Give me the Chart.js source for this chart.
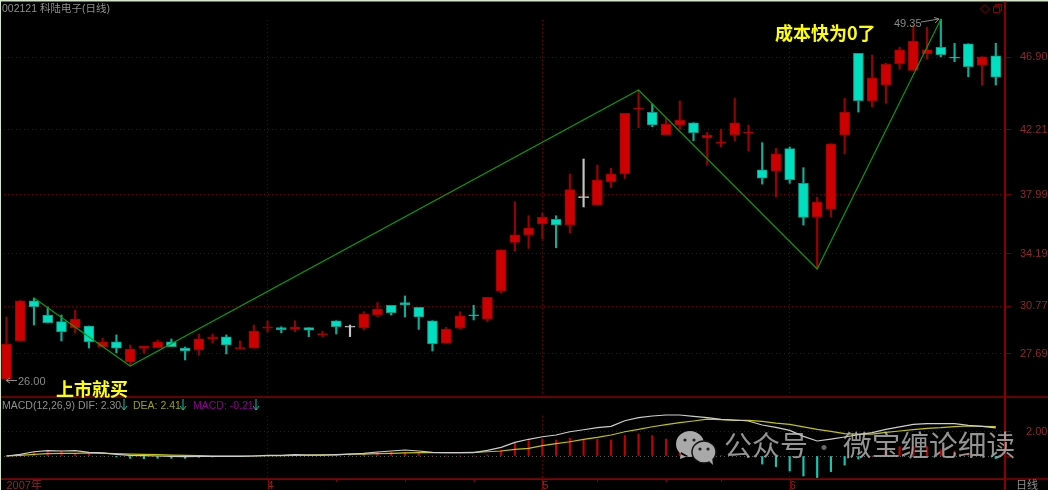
<!DOCTYPE html>
<html>
<head>
<meta charset="utf-8">
<title>002121</title>
<style>
html, body { margin: 0; padding: 0; background: #000; }
canvas { display: block; }
</style>
<script src="https://cdn.jsdelivr.net/npm/chart.js@4/dist/chart.umd.min.js"></script>
</head>
<body>
<canvas id="kline" width="1048" height="490"></canvas>
<script>
const opens = [26.07, 28.55, 31.12, 30.21, 29.78, 29.39, 29.50, 28.16, 28.48, 27.17,
    28.05, 28.09, 28.48, 28.07, 27.95, 28.68, 28.79, 28.03, 28.07, 29.35,
    29.39, 29.28, 29.39, 28.93, 29.84, 29.43, 29.39, 30.23, 30.84, 31.01,
    30.71, 29.84, 28.38, 29.35, 30.21, 29.95, 31.76, 34.91, 35.41, 36.10,
    36.40, 36.03, 37.80, 37.33, 38.83, 39.35, 43.55, 43.32, 41.88, 42.50,
    42.65, 41.66, 41.32, 41.88, 41.99, 39.61, 39.53, 40.97, 38.73, 36.55,
    37.05, 41.88, 47.14, 44.07, 45.09, 46.47, 46.04, 47.12, 47.53, 46.86,
    47.76, 46.38, 46.97];
const closes = [28.33, 31.13, 30.75, 29.71, 29.13, 29.95, 28.48, 28.48, 28.07, 28.01,
    28.20, 28.48, 28.16, 27.88, 28.66, 28.79, 28.27, 28.09, 29.17, 29.45,
    29.26, 29.43, 29.22, 29.00, 29.45, 29.43, 30.27, 30.60, 30.36, 30.86,
    30.08, 28.35, 29.30, 30.15, 30.15, 31.35, 34.43, 35.39, 35.84, 36.53,
    36.03, 38.32, 37.80, 38.94, 39.33, 43.26, 43.58, 42.50, 42.55, 42.81,
    42.00, 41.84, 41.40, 42.65, 42.03, 39.07, 40.63, 38.96, 36.53, 37.52,
    41.29, 43.32, 44.07, 45.56, 46.43, 47.36, 47.92, 47.36, 47.05, 46.83,
    46.27, 46.92, 45.59];
const highs = [30.08, 31.15, 31.31, 30.73, 30.21, 30.53, 29.50, 28.72, 28.92, 28.27,
    28.20, 28.59, 28.66, 28.14, 28.98, 28.98, 28.92, 28.53, 29.56, 29.82,
    29.45, 29.84, 29.39, 29.17, 29.84, 29.56, 30.42, 31.01, 30.84, 31.44,
    30.71, 29.84, 29.41, 30.42, 30.84, 31.35, 34.43, 37.54, 36.63, 36.79,
    36.63, 39.33, 40.30, 39.91, 39.70, 43.26, 44.77, 43.86, 42.94, 44.06,
    42.65, 42.03, 42.24, 44.23, 42.50, 41.36, 40.99, 41.08, 39.74, 37.82,
    41.29, 44.23, 47.14, 47.03, 46.51, 47.53, 48.97, 48.82, 49.35, 47.79,
    47.76, 46.92, 47.79];
const lows = [26.00, 28.50, 29.56, 29.69, 28.53, 29.06, 28.07, 28.16, 27.77, 26.91,
    27.75, 28.09, 28.16, 27.30, 27.62, 28.40, 27.69, 28.03, 28.07, 29.11,
    29.06, 29.13, 28.81, 28.81, 28.98, 28.81, 29.24, 30.10, 30.21, 30.08,
    29.28, 27.88, 28.38, 29.30, 29.89, 29.78, 31.65, 34.35, 34.52, 35.13,
    34.56, 35.53, 37.20, 37.33, 38.45, 39.05, 42.33, 42.39, 41.88, 42.22,
    41.49, 39.91, 41.10, 41.49, 40.82, 38.68, 37.86, 38.73, 36.03, 33.19,
    36.57, 40.63, 43.34, 43.69, 43.91, 46.11, 46.04, 46.77, 46.92, 46.60,
    45.63, 45.09, 45.09];

const difs = [0, 0.14, 0.35, 0.44, 0.41, 0.44, 0.30, 0.25, 0.14, 0.05,
    0.03, 0, -0.03, -0.05, -0.03, -0.03, -0.03, -0.03, 0, 0.05,
    0.05, 0.11, 0.08, 0.08, 0.11, 0.16, 0.22, 0.33, 0.41, 0.49,
    0.41, 0.30, 0.27, 0.27, 0.27, 0.46, 0.71, 1.12, 1.37, 1.58,
    1.72, 1.99, 2.15, 2.32, 2.43, 2.89, 3.14, 3.28, 3.36, 3.36,
    3.25, 3.14, 3.00, 2.95, 2.87, 2.54, 2.35, 2.10, 1.61, 1.23,
    1.39, 1.56, 1.75, 1.91, 2.18, 2.38, 2.59, 2.65, 2.65, 2.65,
    2.51, 2.43, 2.30];
const deas = [0, 0.05, 0.14, 0.19, 0.22, 0.22, 0.25, 0.22, 0.19, 0.16,
    0.14, 0.11, 0.08, 0.05, 0.03, 0, 0, -0.01, 0, 0.03,
    0.03, 0.05, 0.08, 0.09, 0.10, 0.16, 0.16, 0.19, 0.22, 0.25,
    0.27, 0.27, 0.27, 0.27, 0.30, 0.35, 0.41, 0.55, 0.63, 0.85,
    1.01, 1.17, 1.37, 1.53, 1.72, 1.99, 2.18, 2.40, 2.57, 2.73,
    2.87, 3.03, 2.98, 2.92, 2.92, 2.84, 2.70, 2.59, 2.38, 2.18,
    2.02, 1.83, 1.80, 1.80, 1.94, 2.05, 2.16, 2.27, 2.32, 2.40,
    2.46, 2.43, 2.41];
const hists = [0, 0, 0.30, 0.44, 0.41, 0.22, 0.27, 0, -0.08, -0.19,
    -0.22, -0.19, -0.19, -0.19, -0.11, -0.08, -0.05, -0.03, 0, 0.05,
    0.05, 0.11, 0.11, 0.10, 0.10, 0.08, 0.22, 0.30, 0.30, 0.30,
    0.25, 0, 0, 0, 0, 0.08, 0.49, 1.04, 1.26, 1.39,
    1.31, 1.45, 1.37, 1.37, 1.31, 1.67, 1.80, 1.67, 1.39, 1.17,
    0.63, 0.20, 0.04, 0.06, -0.10, -0.66, -0.87, -1.23, -1.64, -1.77,
    -1.28, -0.74, -0.25, 0, 0.35, 0.76, 0.76, 0.76, 0.50, 0.41,
    0.14, 0, -0.21];

const zigzagIdx = [2, 9, 46, 59, 68];
const zigzagPrices = [31.31, 26.91, 44.77, 33.19, 49.35];
const priceTicks = [27.69, 30.77, 34.19, 37.99, 42.21, 46.90];
const macdTicks = [0, 2];
const monthIdx = [0, 19, 39, 57];
const monthLabels = ['2007年', '4', '5', '6'];
const weekIdx = [24, 29, 34, 43, 48, 52];

const RED = '#cc0000', RED_EDGE = '#a00000', RED_WICK = '#9a0000';
const CYAN = '#00dfc0', CYAN_EDGE = '#0a9c88', CYAN_WICK = '#10ae98';
const WHITE = '#c4c4c4';
const AXIS = '#8a0000', GRID = '#6e0000', LABEL = '#8e2a2a';
const CN = '"Liberation Sans", "Noto Sans CJK SC", sans-serif';

function candleColor(i, up, down, flat) {
    if (opens[i] === closes[i]) return flat;
    return closes[i] > opens[i] ? up : down;
}

function text(ctx, str, x, y, color, font) {
    ctx.fillStyle = color;
    ctx.font = font;
    ctx.textAlign = 'left';
    ctx.textBaseline = 'alphabetic';
    ctx.fillText(str, x, y);
}

function downArrow(ctx, x) {
    ctx.strokeStyle = '#12c0aa';
    ctx.lineWidth = 1;
    ctx.beginPath();
    ctx.moveTo(x, 399); ctx.lineTo(x, 410);
    ctx.moveTo(x - 3, 406); ctx.lineTo(x, 410); ctx.lineTo(x + 3, 406);
    ctx.stroke();
}

// the month lines do not run through the title row or the MACD legend row
const coverRows = {
    id: 'coverRows',
    beforeDatasetsDraw(chart) {
        const ctx = chart.ctx;
        const bottom = chart.scales.yMacd.top;
        ctx.save();
        ctx.fillStyle = '#000';
        ctx.fillRect(0, 0, chart.chartArea.right - 1, 18);
        ctx.fillRect(0, bottom + 1, chart.chartArea.right - 1, 17);
        ctx.restore();
    }
};

const overlay = {
    id: 'overlay',
    afterDraw(chart) {
        const ctx = chart.ctx;
        const x = chart.scales.x, macd = chart.scales.yMacd;
        const right = chart.chartArea.right;
        ctx.save();

        // frame
        ctx.fillStyle = '#d6e6c8';
        ctx.fillRect(0, 0, 1048, 1.5);
        ctx.fillRect(0, 0, 1, 490);
        ctx.strokeStyle = AXIS;
        ctx.lineWidth = 1.5;
        ctx.beginPath();
        ctx.moveTo(1, macd.top); ctx.lineTo(1048, macd.top);
        ctx.moveTo(1, macd.bottom); ctx.lineTo(1048, macd.bottom);
        ctx.stroke();
        ctx.lineWidth = 2;
        ctx.beginPath();
        ctx.moveTo(right, 1.5); ctx.lineTo(right, 490);
        ctx.stroke();
        ctx.lineWidth = 1;
        ctx.beginPath();
        monthIdx.slice(1).forEach(function(i) {
            const px = Math.round(x.getPixelForValue(i)) + 0.5;
            ctx.moveTo(px, macd.bottom); ctx.lineTo(px, 490);
        });
        weekIdx.forEach(function(i) {
            const px = Math.round(x.getPixelForValue(i)) + 0.5;
            ctx.moveTo(px, macd.bottom); ctx.lineTo(px, macd.bottom + 3);
        });
        ctx.stroke();

        // top right icons
        ctx.beginPath();
        ctx.moveTo(985, 4.5); ctx.lineTo(989.5, 9); ctx.lineTo(985, 13.5); ctx.lineTo(980.5, 9); ctx.closePath();
        ctx.rect(993.5, 6.5, 6, 6);
        ctx.moveTo(995.5, 6.5); ctx.lineTo(995.5, 4.5); ctx.lineTo(1001.5, 4.5); ctx.lineTo(1001.5, 10.5); ctx.lineTo(999.5, 10.5);
        ctx.stroke();

        // headers
        text(ctx, '002121 科陆电子(日线)', 2, 12, '#8f8f8f', '10.5px ' + CN);
        text(ctx, 'MACD(12,26,9)', 2, 409, '#8f8f8f', '10.5px ' + CN);
        text(ctx, 'DIF: 2.30', 78, 409, '#8f8f8f', '10.5px ' + CN);
        downArrow(ctx, 124);
        text(ctx, 'DEA: 2.41', 133, 409, '#a0a000', '10.5px ' + CN);
        downArrow(ctx, 183);
        text(ctx, 'MACD: -0.21', 193, 409, '#900090', '10.5px ' + CN);
        downArrow(ctx, 256);
        text(ctx, '日线', 1016, 489, '#8f8f8f', '11px ' + CN);

        // price notes
        text(ctx, '26.00', 18, 385, '#8a8a8a', '11px ' + CN);
        text(ctx, '49.35', 894, 27, '#8a8a8a', '11px ' + CN);
        ctx.strokeStyle = '#8a8a8a';
        ctx.lineWidth = 1;
        ctx.beginPath();
        ctx.moveTo(17, 380.5); ctx.lineTo(6, 380.5);
        ctx.moveTo(10, 378); ctx.lineTo(6, 380.5); ctx.lineTo(10, 383);
        ctx.moveTo(921, 22); ctx.lineTo(939, 19); ctx.lineTo(934, 17.5);
        ctx.moveTo(939, 19); ctx.lineTo(935, 23);
        ctx.stroke();

        // yellow notes
        const bold = 'bold 18px "Noto Sans CJK SC", sans-serif';
        text(ctx, '上市就买', 56, 396, '#ffff00', bold);
        text(ctx, '成本快为0了', 775, 40, '#ffff00', bold);

        // watermark
        const mark = 'rgba(190,190,190,0.78)';
        ctx.fillStyle = '#a9a9a9';
        ctx.beginPath();
        ctx.ellipse(690, 444, 14, 13, 0, 0, Math.PI * 2);
        ctx.moveTo(681, 452); ctx.lineTo(680, 459); ctx.lineTo(688, 456);
        ctx.fill();
        ctx.strokeStyle = '#111';
        ctx.lineWidth = 1.5;
        ctx.fillStyle = '#a9a9a9';
        ctx.beginPath();
        ctx.ellipse(704, 452, 12, 11, 0, 0, Math.PI * 2);
        ctx.fill();
        ctx.stroke();
        ctx.beginPath();
        ctx.moveTo(708, 460); ctx.lineTo(713, 465); ctx.lineTo(712, 457);
        ctx.fill();
        ctx.fillStyle = '#222';
        [[685, 440], [694, 440], [700, 449], [708, 449]].forEach(function(p) {
            ctx.beginPath();
            ctx.arc(p[0], p[1], 1.6, 0, Math.PI * 2);
            ctx.fill();
        });
        const wm = '28px "Noto Sans CJK SC", sans-serif';
        text(ctx, '公众号', 724, 456, mark, wm);
        text(ctx, '·', 812, 456, 'rgba(190,190,190,0.55)', '24px "Noto Sans CJK SC", sans-serif');
        text(ctx, '微宝缠论细读', 843, 456, mark, '28.7px "Noto Sans CJK SC", sans-serif');
        ctx.restore();
    }
};

function pointsOf(values) {
    return values.map(function(v, i) { return { x: i, y: v }; });
}

document.addEventListener('DOMContentLoaded', function() {
    Chart.defaults.font.family = CN;

    new Chart(document.getElementById('kline'), {
        data: {
            datasets: [
                {
                    type: 'line',
                    order: 0,
                    yAxisID: 'yPrice',
                    data: zigzagIdx.map(function(i, k) { return { x: i, y: zigzagPrices[k] }; }),
                    borderColor: '#0b9a0b',
                    borderWidth: 1.2,
                    pointRadius: 0,
                    tension: 0
                },
                {
                    type: 'bar',
                    order: 1,
                    yAxisID: 'yPrice',
                    grouped: false,
                    barThickness: 10,
                    minBarLength: 1,
                    borderWidth: 1,
                    borderSkipped: false,
                    data: opens.map(function(o, i) { return { x: i, y: [o, closes[i]] }; }),
                    backgroundColor: opens.map(function(o, i) { return candleColor(i, RED, CYAN, WHITE); }),
                    borderColor: opens.map(function(o, i) { return candleColor(i, RED_EDGE, CYAN_EDGE, WHITE); })
                },
                {
                    type: 'bar',
                    order: 2,
                    yAxisID: 'yPrice',
                    grouped: false,
                    barThickness: 1.5,
                    data: lows.map(function(l, i) { return { x: i, y: [l, highs[i]] }; }),
                    backgroundColor: opens.map(function(o, i) { return candleColor(i, RED_WICK, CYAN_WICK, WHITE); })
                },
                {
                    type: 'line',
                    order: 3,
                    yAxisID: 'yMacd',
                    data: pointsOf(difs),
                    borderColor: '#cdcdcd',
                    borderWidth: 1.2,
                    pointRadius: 0,
                    tension: 0
                },
                {
                    type: 'line',
                    order: 3,
                    yAxisID: 'yMacd',
                    data: pointsOf(deas),
                    borderColor: '#c4c400',
                    borderWidth: 1.2,
                    pointRadius: 0,
                    tension: 0
                },
                {
                    type: 'bar',
                    order: 4,
                    yAxisID: 'yMacd',
                    grouped: false,
                    barThickness: 1.5,
                    data: pointsOf(hists),
                    backgroundColor: hists.map(function(v) { return v >= 0 ? '#c00000' : '#12c8b0'; })
                }
            ]
        },
        options: {
            responsive: false,
            animation: false,
            events: [],
            layout: { padding: 0 },
            plugins: { legend: { display: false }, tooltip: { enabled: false } },
            scales: {
                x: {
                    type: 'linear',
                    offset: false,
                    min: -0.473,
                    max: 72.67,
                    afterBuildTicks: function(s) {
                        s.ticks = monthIdx.map(function(i) { return { value: i }; });
                    },
                    afterFit: function(s) {
                        s.height = 11;
                        s.paddingLeft = 0;
                        s.paddingRight = 0;
                    },
                    ticks: {
                        align: 'start',
                        autoSkip: false,
                        maxRotation: 0,
                        padding: 0,
                        color: LABEL,
                        font: { size: 11 },
                        callback: function(v) { return monthLabels[monthIdx.indexOf(v)]; }
                    },
                    grid: {
                        offset: false,
                        drawTicks: false,
                        color: function(c) { return c.index === 0 ? 'transparent' : GRID; }
                    },
                    border: { color: AXIS, dash: [1, 3] }
                },
                yPrice: {
                    type: 'linear',
                    position: 'right',
                    stack: 'panels',
                    stackWeight: 397,
                    min: 24.904,
                    max: 50.59,
                    afterBuildTicks: function(s) {
                        s.ticks = priceTicks.map(function(v) { return { value: v }; });
                    },
                    afterFit: function(s) {
                        s.width = 43;
                        s.paddingTop = 0;
                        s.paddingBottom = 0;
                    },
                    ticks: {
                        padding: 9,
                        color: LABEL,
                        font: { size: 11 },
                        callback: function(v) { return v.toFixed(2); }
                    },
                    grid: { color: GRID, tickColor: GRID, tickLength: 6 },
                    border: { color: AXIS, width: 2, dash: [1, 3] }
                },
                yMacd: {
                    type: 'linear',
                    position: 'right',
                    stack: 'panels',
                    stackWeight: 82,
                    min: -1.885,
                    max: 4.836,
                    afterBuildTicks: function(s) {
                        s.ticks = macdTicks.map(function(v) { return { value: v }; });
                    },
                    afterFit: function(s) {
                        s.width = 43;
                        s.paddingTop = 0;
                        s.paddingBottom = 0;
                    },
                    ticks: {
                        padding: 15,
                        color: LABEL,
                        font: { size: 11 },
                        callback: function(v) { return v === 0 ? '' : v.toFixed(2); }
                    },
                    grid: {
                        color: function(c) { return c.tick.value === 0 ? '#5c5c5c' : GRID; },
                        tickColor: GRID,
                        tickLength: 6
                    },
                    border: { color: AXIS, width: 2, dash: [1, 3] }
                }
            }
        },
        plugins: [coverRows, overlay]
    });
});
</script>
</body>
</html>
